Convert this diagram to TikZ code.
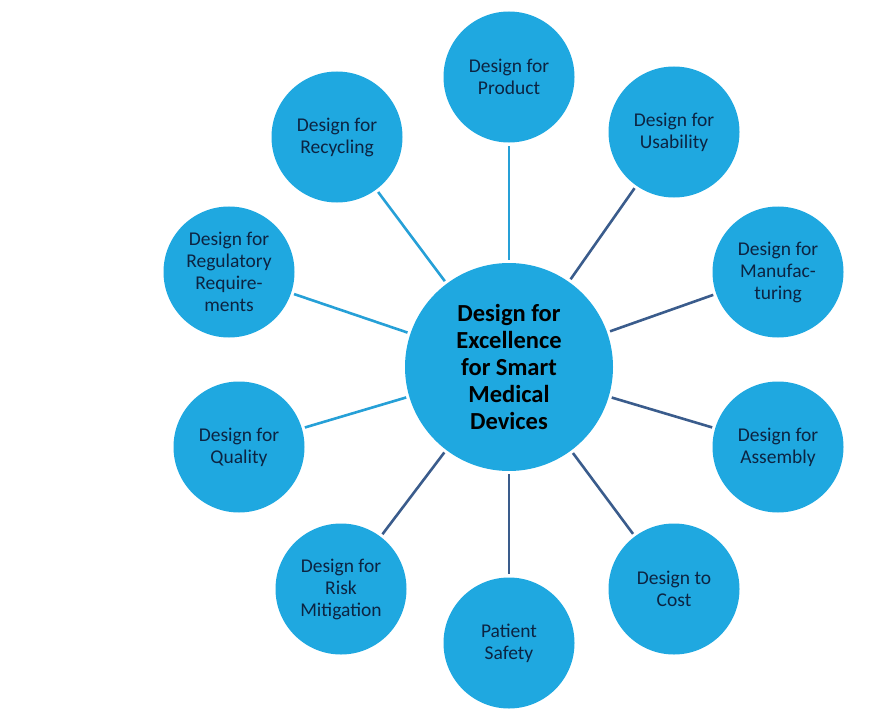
\documentclass[tikz,border=0pt]{standalone}
\usepackage{fontspec}
\setmainfont{Carlito}
\definecolor{cfill}{RGB}{31,168,224}
\definecolor{clight}{RGB}{38,160,215}
\definecolor{cdark}{RGB}{58,92,140}
\definecolor{ctext}{RGB}{12,36,66}
\tikzset{
  outer/.style={circle, fill=cfill, minimum size=131bp, inner sep=0pt, align=center, text=ctext,
    font=\fontsize{19.5bp}{22bp}\selectfont},
  hub/.style={circle, fill=cfill, minimum size=208bp, inner sep=0pt, align=center, text=black,
    font=\fontsize{24.5bp}{27bp}\selectfont\bfseries},
  link/.style={line width=2.6bp, shorten <=3bp, shorten >=3bp},
  lightlink/.style={link, draw=clight},
  darklink/.style={link, draw=cdark}
}
\begin{document}
\begin{tikzpicture}[x=1bp,y=-1bp]
\useasboundingbox (0,0) rectangle (894,722);
\node[hub] (c) at (509,367) {Design for\\Excellence\\for Smart\\Medical\\Devices};
\node[outer] (prod) at (509,77) {Design for\\Product};
\node[outer] (usab) at (674,132) {Design for\\Usability};
\node[outer] (manu) at (778,272) {Design for\\Manufac-\\turing};
\node[outer] (asse) at (778,447) {Design for\\Assembly};
\node[outer] (cost) at (674,589) {Design to\\Cost};
\node[outer] (safe) at (509,643) {Patient\\Safety};
\node[outer] (risk) at (341,589) {Design for\\Risk\\Mitigation};
\node[outer] (qual) at (239,447) {Design for\\Quality};
\node[outer] (regu) at (229,272) {Design for\\Regulatory\\Require-\\ments};
\node[outer] (recy) at (337,137) {Design for\\Recycling};
\draw[lightlink] (c) -- (prod);
\draw[darklink] (c) -- (usab);
\draw[darklink] (c) -- (manu);
\draw[darklink] (c) -- (asse);
\draw[darklink] (c) -- (cost);
\draw[darklink] (c) -- (safe);
\draw[darklink] (c) -- (risk);
\draw[lightlink] (c) -- (qual);
\draw[lightlink] (c) -- (regu);
\draw[lightlink] (c) -- (recy);
\end{tikzpicture}
\end{document}
